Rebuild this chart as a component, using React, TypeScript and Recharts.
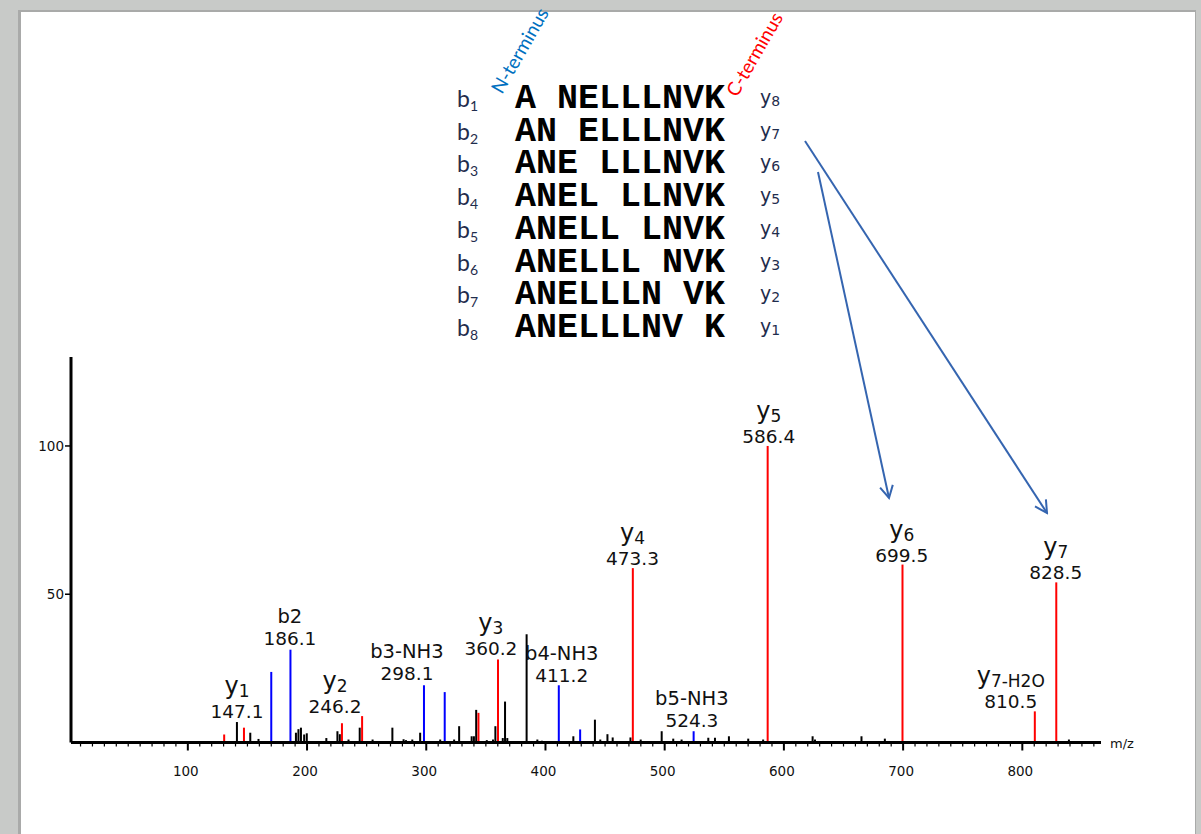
import React from 'react';
import { ComposedChart, Bar, Cell, Scatter, XAxis, YAxis } from 'recharts';

// MS/MS spectrum of ANELLLNVK: [m/z, relative intensity]
// unassigned peaks (black)
const otherPeaks: [number, number][] = [
  [141.2, 6.9], [152.4, 3.3], [159.3, 1.2], [190.7, 3.3], [192.8, 4.5], [194.9, 5.0], [197.6, 2.7], [199.8, 3.1],
  [216.2, 1.5], [225.5, 3.8], [227.5, 2.8], [234.8, 1.0], [244.2, 5.0], [255.0, 1.0], [271.6, 5.0], [281.0, 1.1],
  [283.0, 0.8], [288.3, 1.0], [294.9, 3.3], [311.7, 1.0], [323.4, 1.0], [327.6, 5.5], [338.1, 2.1], [340.0, 2.1],
  [341.9, 11.0], [350.8, 0.8], [356.0, 1.0], [358.0, 5.5], [364.2, 1.5], [366.1, 13.8], [368.0, 1.5], [384.2, 36.5],
  [393.2, 1.0], [397.0, 0.6], [423.4, 2.1], [441.5, 7.7], [446.0, 1.0], [452.0, 2.8], [456.4, 1.7], [471.3, 1.7],
  [479.9, 1.0], [497.5, 3.8], [507.2, 1.3], [514.2, 1.0], [536.6, 1.6], [542.2, 1.6], [553.9, 2.1], [570.1, 1.3],
  [582.6, 1.0], [624.1, 2.1], [626.1, 1.0], [665.1, 2.1], [684.7, 1.3], [839.1, 1.0],
];
// b-type ions (blue)
const bPeaks: [number, number][] = [
  [170.0, 23.8], [186.1, 31.3], [298.1, 19.3], [315.5, 17.0], [411.2, 19.3], [429.1, 4.4], [524.3, 3.8],
];
// y-type ions (red)
const yPeaks: [number, number][] = [
  [130.5, 2.7], [147.1, 5.0], [229.3, 6.5], [246.2, 8.9], [343.8, 10.0], [360.2, 28.0], [473.3, 58.8],
  [586.4, 100], [699.5, 60.0], [810.5, 10.5], [828.5, 54.0],
];

// peak annotations: ion name, subscript, mass text, label centre (m/z) and height
const ionNames = ['y', 'b2', 'y', 'b3-NH3', 'y', 'b4-NH3', 'y', 'b5-NH3', 'y', 'y', 'y', 'y'];
const ionSubs = ['1', '', '2', '', '3', '', '4', '', '5', '6', '7-H2O', '7'];
const ionMasses = ['147.1', '186.1', '246.2', '298.1', '360.2', '411.2', '473.3', '524.3', '586.4', '699.5', '810.5', '828.5'];
const labelMz = [141.2, 185.6, 223.4, 283.8, 354.2, 413.7, 473.0, 522.8, 587.3, 698.9, 790.3, 828.0];
const labelPos = [8.3, 32.9, 9.9, 21.1, 29.5, 20.4, 59.9, 5.2, 101, 60.9, 11.6, 55.1];

const majorTicks = [100, 200, 300, 400, 500, 600, 700, 800];
const yTicks = [50, 100];

// fragment table
const seqRows = ['A NELLLNVK', 'AN ELLLNVK', 'ANE LLLNVK', 'ANEL LLNVK', 'ANELL LNVK', 'ANELLL NVK', 'ANELLLN VK', 'ANELLLNV K'];
const bIndex = ['1', '2', '3', '4', '5', '6', '7', '8'];
const yIndex = ['8', '7', '6', '5', '4', '3', '2', '1'];

const colors: Record<string, string> = { other: '#000000', b: '#0000ff', y: '#ff0000' };

const peaks = [
  ...otherPeaks.map(([mz, intensity]) => ({ mz, intensity, kind: 'other' })),
  ...bPeaks.map(([mz, intensity]) => ({ mz, intensity, kind: 'b' })),
  ...yPeaks.map(([mz, intensity]) => ({ mz, intensity, kind: 'y' })),
].sort((a, b) => a.mz - b.mz);

const labels = ionNames.map((name, i) => ({
  name,
  sub: ionSubs[i],
  mass: ionMasses[i],
  mz: labelMz[i],
  pos: labelPos[i],
}));

const minorTicks: number[] = [];
for (let v = 10; v <= 860; v += 10) minorTicks.push(v);

const FONT = '"DejaVu Sans", Verdana, sans-serif';

const XTick = (props: any) => {
  const { x, y, payload } = props;
  const major = majorTicks.includes(payload.value);
  return (
    <g>
      <line x1={x} x2={x} y1={y} y2={y + (major ? 8 : 4)} stroke="#000" strokeWidth={major ? 2 : 1.2} />
      {major && (
        <text x={x - 2} y={y + 33} textAnchor="middle" fontSize={13.5} fontFamily={FONT} fill="#111">
          {payload.value}
        </text>
      )}
    </g>
  );
};

const YTick = (props: any) => {
  const { x, y, payload } = props;
  return (
    <g>
      <line x1={x - 6} x2={x} y1={y} y2={y} stroke="#000" strokeWidth={1.5} />
      <text x={x - 7} y={y + 5} textAnchor="end" fontSize={13.5} fontFamily={FONT} fill="#111">
        {payload.value}
      </text>
    </g>
  );
};

// 2px stick centred on the peak position
const Stick = (props: any) => {
  const { x, y, width, height, fill } = props;
  if (height == null || height <= 0) return null;
  return <rect x={x + width / 2 - 1} y={y} width={2} height={height} fill={fill} />;
};

const IonLabel = (props: any) => {
  const { cx, cy, payload } = props;
  const isY = payload.name === 'y';
  return (
    <g>
      {isY ? (
        <text x={cx} y={cy - 24} textAnchor="middle" fontFamily={FONT} fill="#111">
          <tspan fontSize={24}>y</tspan>
          <tspan fontSize={17} dy={3}>{payload.sub}</tspan>
        </text>
      ) : (
        <text x={cx} y={cy - 22} textAnchor="middle" fontFamily={FONT} fontSize={19.5} fill="#111">
          {payload.name}
        </text>
      )}
      <text x={cx} y={cy} textAnchor="middle" fontFamily={FONT} fontSize={18.5} fill="#111">
        {payload.mass}
      </text>
    </g>
  );
};

const Fragments = () => {
  const step = 32.7;
  return (
    <svg width={1201} height={834} style={{ position: 'absolute', left: 0, top: 0, pointerEvents: 'none' }}>
      <defs>
        <marker id="head" viewBox="0 0 16 16" refX="14" refY="8" markerWidth="16" markerHeight="16"
          markerUnits="userSpaceOnUse" orient="auto">
          <polyline points="2,1.5 14,8 2,14.5" fill="none" stroke="#3565b0" strokeWidth={2} />
        </marker>
      </defs>
      {seqRows.map((row, i) => (
        <g key={row}>
          <text x={457} y={107 + i * step} fontFamily="Lato, sans-serif" fontSize={23} fill="#1f2d4d">
            b<tspan fontSize={14} dy={4}>{bIndex[i]}</tspan>
          </text>
          <text x={515} y={108 + i * step} fontFamily='"Liberation Mono", "Courier New", monospace'
            fontWeight="bold" fontSize={35} fill="#000" style={{ whiteSpace: 'pre' }}>
            {row}
          </text>
          <text x={760} y={104 + i * step} fontFamily={FONT} fontSize={19} fill="#1f2d4d">
            y<tspan fontSize={14} dy={2}>{yIndex[i]}</tspan>
          </text>
        </g>
      ))}
      <text x={502} y={95} transform="rotate(-60 502 95)" fontFamily="Lato, sans-serif" fontSize={19} fill="#0070c0">
        N-terminus
      </text>
      <text x={737} y={98} transform="rotate(-60 737 98)" fontFamily="Lato, sans-serif" fontSize={19} fill="#ff0000">
        C-terminus
      </text>
      <line x1={805} y1={141} x2={1047} y2={513} stroke="#3565b0" strokeWidth={2} markerEnd="url(#head)" />
      <line x1={818} y1={172} x2={889} y2={498} stroke="#3565b0" strokeWidth={2} markerEnd="url(#head)" />
    </svg>
  );
};

export default function App() {
  return (
    <div style={{ position: 'absolute', left: 0, top: 0, width: 1201, height: 834, background: '#c8cac8', overflow: 'hidden' }}>
      <div style={{ position: 'absolute', left: 18, top: 10, width: 1178, height: 830, background: '#a9aaa9' }} />
      <div style={{ position: 'absolute', left: 21, top: 12, width: 1174, height: 830, background: '#ffffff' }} />
      <div style={{ position: 'absolute', left: 0, top: 0 }}>
        <ComposedChart width={1201} height={834} data={peaks}
          margin={{ top: 357, right: 100, bottom: 61.5, left: 11 }}>
          <XAxis type="number" dataKey="mz" domain={[2, 866]} ticks={minorTicks} interval={0}
            tickSize={0} tickMargin={0} tickLine={false} tick={<XTick />} height={30}
            axisLine={{ stroke: '#000', strokeWidth: 3 }}
            label={{
              content: (p: any) => (
                <text x={p.viewBox.x + p.viewBox.width + 9} y={p.viewBox.y + 5} fontFamily={FONT} fontSize={13} fill="#111">
                  m/z
                </text>
              ),
            }} />
          <YAxis type="number" domain={[0, 130]} ticks={yTicks} width={60} tickSize={0} tickMargin={0}
            tickLine={false} tick={<YTick />} axisLine={{ stroke: '#000', strokeWidth: 3 }} />
          <Bar dataKey="intensity" barSize={2} isAnimationActive={false} shape={(p: any) => <Stick {...p} />}>
            {peaks.map((p, i) => (
              <Cell key={i} fill={colors[p.kind]} />
            ))}
          </Bar>
          <Scatter data={labels} dataKey="pos" isAnimationActive={false} shape={(p: any) => <IonLabel {...p} />} />
        </ComposedChart>
      </div>
      <Fragments />
    </div>
  );
}
